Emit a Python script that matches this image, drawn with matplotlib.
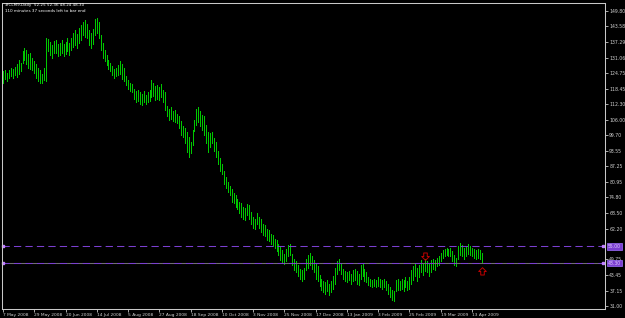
import matplotlib
matplotlib.use("Agg")
import matplotlib.pyplot as plt
from matplotlib.path import Path
import numpy as np

# ---------------- data ----------------
highs = [
    125.5, 126.0, 124.8, 126.2, 127.0, 126.5, 127.3, 128.5, 130.0, 129.0,
    133.5, 135.0, 134.0, 132.5, 133.0, 131.0, 129.5, 128.5, 127.0, 126.0,
    124.5, 127.0, 139.0, 138.5, 137.5, 136.0, 137.8, 138.2, 136.5, 137.0,
    138.0, 136.5, 137.5, 138.8, 137.0, 139.0, 141.0, 142.0, 140.5, 143.0,
    144.0, 145.5, 146.0, 144.5, 142.0, 141.0, 142.5, 146.5, 147.0, 145.5,
    140.0, 137.0, 134.0, 132.0, 130.0, 129.0, 127.5, 126.5, 127.0, 128.0,
    129.5, 128.5, 127.0, 123.5, 122.0, 121.0, 120.5, 118.5, 117.5, 118.0,
    117.0, 116.5, 117.5, 116.0, 117.0, 118.0, 122.0, 121.0, 119.5, 120.0,
    119.0, 120.5, 118.0, 117.0, 111.5, 110.5, 111.0, 109.5, 110.0, 108.5,
    107.5, 105.5, 103.5, 102.5, 101.0, 99.0, 97.0, 102.0, 106.0, 110.5,
    111.0, 109.5, 108.0, 107.5, 104.0, 101.0, 100.5, 101.0, 98.5, 97.0,
    93.5, 90.5, 88.0, 85.5, 83.0, 81.0, 79.5, 78.0, 76.5, 75.5,
    74.0, 73.0, 72.5, 71.0, 70.5, 72.0, 71.5, 69.0, 67.0, 66.0,
    68.5, 67.0, 66.0, 64.0, 63.5, 62.0, 61.5, 60.0, 59.5, 58.0,
    57.5, 56.0, 55.0, 53.5, 52.0, 54.0, 55.5, 56.0, 52.0, 50.0,
    49.0, 47.5, 46.0, 45.5, 46.5, 50.0, 51.5, 52.5, 51.0, 49.5,
    48.5, 47.0, 43.5, 42.0, 41.0, 40.5, 41.5, 40.0, 41.0, 43.0,
    46.5, 49.0, 50.0, 48.5, 46.0, 45.0, 44.5, 45.0, 44.0, 45.5,
    46.0, 45.0, 44.0, 47.5, 48.0, 46.0, 44.5, 42.5, 42.0, 41.5,
    42.0, 41.5, 42.5, 42.0, 41.5, 42.0, 41.0, 40.0, 38.5, 37.5,
    37.0, 41.5, 42.0, 41.0, 42.0, 41.5, 42.5, 41.0, 42.5, 45.5,
    47.0, 48.0, 46.5, 47.5, 49.5, 48.5, 50.0, 49.0, 48.5, 49.5,
    50.0, 49.5, 50.5, 51.0, 52.5, 53.5, 54.0, 54.5, 54.0, 54.5,
    53.0, 51.5, 50.5, 55.0, 56.5, 55.5, 54.5, 55.0, 56.0, 55.0,
    54.5, 54.0, 53.5, 54.0, 53.5, 52.36,
]
lows = [
    121.0, 122.5, 121.8, 122.9, 123.5, 123.0, 124.0, 123.2, 124.5, 125.5,
    129.0, 130.2, 128.5, 127.0, 126.5, 126.0, 125.0, 123.0, 121.5, 121.0,
    120.8, 122.0, 121.5, 133.5, 132.0, 131.0, 132.8, 133.0, 131.5, 132.0,
    133.0, 131.8, 132.5, 133.5, 132.0, 134.0, 135.5, 136.0, 135.0, 137.0,
    138.0, 140.0, 139.5, 139.0, 136.0, 135.0, 136.5, 140.0, 141.0, 139.0,
    134.0, 131.0, 129.5, 128.0, 126.5, 125.5, 124.0, 123.0, 123.5, 124.0,
    124.5, 122.5, 121.5, 120.0, 118.5, 117.5, 117.0, 114.5, 113.0, 113.5,
    112.5, 112.0, 113.0, 112.2, 113.0, 113.5, 115.0, 115.5, 114.0, 114.5,
    114.0, 115.0, 113.0, 110.0, 107.5, 106.0, 106.5, 105.5, 105.0, 104.5,
    102.5, 100.0, 99.0, 96.5, 93.0, 91.0, 92.5, 96.0, 101.5, 104.0,
    105.0, 103.5, 102.0, 100.0, 96.5, 93.0, 95.0, 96.5, 93.5, 91.0,
    88.0, 85.5, 84.0, 80.0, 78.5, 77.0, 75.5, 73.0, 72.5, 71.0,
    70.0, 68.5, 67.0, 66.0, 65.5, 67.5, 66.0, 64.0, 62.5, 62.0,
    64.0, 62.5, 61.0, 59.5, 59.0, 57.5, 57.0, 56.0, 55.0, 54.5,
    53.0, 51.5, 49.5, 48.5, 48.0, 49.0, 51.0, 51.5, 47.5, 45.5,
    44.5, 43.0, 42.0, 41.0, 42.0, 45.5, 46.5, 47.5, 46.0, 44.5,
    42.0, 41.0, 39.0, 37.5, 36.5, 36.0, 37.0, 35.5, 36.5, 38.0,
    40.0, 44.0, 45.5, 44.0, 42.0, 41.0, 40.5, 41.5, 40.0, 41.0,
    41.5, 40.0, 39.5, 42.0, 43.0, 41.0, 40.5, 39.5, 39.0, 38.5,
    39.0, 38.5, 39.0, 38.5, 38.0, 38.5, 37.5, 36.0, 34.5, 33.5,
    33.0, 37.0, 37.5, 37.5, 38.0, 37.0, 38.5, 37.5, 38.0, 40.0,
    41.5, 43.0, 41.0, 42.5, 44.5, 43.5, 45.0, 44.5, 43.0, 44.5,
    46.0, 45.5, 47.0, 47.5, 49.0, 50.5, 51.0, 51.5, 51.0, 51.0,
    49.0, 47.5, 47.0, 50.0, 51.5, 51.0, 50.0, 51.0, 52.0, 51.5,
    51.0, 50.5, 50.0, 50.5, 50.0, 48.24,
]
date_labels = ["7 May 2008", "29 May 2008", "20 Jun 2008", "14 Jul 2008",
               "5 Aug 2008", "27 Aug 2008", "18 Sep 2008", "10 Oct 2008",
               "3 Nov 2008", "25 Nov 2008", "17 Dec 2008", "13 Jan 2009",
               "3 Feb 2009", "25 Feb 2009", "19 Mar 2009", "13 Apr 2009"]
date_label_bars = list(range(0, 241, 16))
price_ticks = [149.80, 143.58, 137.29, 131.06, 124.75, 118.45, 112.30, 106.00,
               99.70, 93.55, 87.25, 80.95, 74.80, 68.50, 62.20, 49.75,
               43.45, 37.15, 31.00]
level_line = 55.00
bid_price = 48.30
last_bar = {"open": 52.25, "high": 52.36, "low": 48.24, "close": 48.30}
signal_down = (216, 51.0)
signal_up = (245, 45.0)

# ---------------- figure ----------------
W, H = 625, 318
fig = plt.figure(figsize=(W / 100, H / 100), dpi=100, facecolor="black")
ax = fig.add_axes([2 / W, (H - 309) / H, 603 / W, 306 / H])
ax.set_facecolor("black")

n = len(highs)
idx = np.arange(n)
ax.vlines(idx, lows, highs, color="#00c800", lw=0.5, antialiased=False)

ax.set_xlim(-0.5, 308.1)
ax.set_ylim(29.79, 153.02)

# horizontal lines
purple = "#7b3fd0"
ax.axhline(level_line, color=purple, lw=0.75, ls=(0, (7, 4)))
ax.axhline(bid_price, color="#707070", lw=0.75)
ax.axhline(bid_price, color=purple, lw=0.75, ls=(0, (7, 4)))
for yv in (level_line, bid_price):
    ax.plot([0.0, 307.0], [yv, yv], ls="none", marker="s", ms=2.0,
            color="#c080ff", clip_on=False)

# signal arrows (hollow block arrows)
down_arrow = Path([(-0.3, 0.6), (0.3, 0.6), (0.3, 0.0), (0.65, 0.0),
                   (0.0, -0.65), (-0.65, 0.0), (-0.3, 0.0), (-0.3, 0.6)],
                  [Path.MOVETO] + [Path.LINETO] * 6 + [Path.CLOSEPOLY])
up_arrow = Path([(x, -y) for x, y in down_arrow.vertices], down_arrow.codes)
ax.plot([signal_down[0]], [signal_down[1]], marker=down_arrow, ms=5.5,
        mfc="none", mec="#c00000", mew=0.7, ls="none")
ax.plot([signal_up[0]], [signal_up[1]], marker=up_arrow, ms=5.5,
        mfc="none", mec="#c00000", mew=0.7, ls="none")

# spines
for s in ax.spines.values():
    s.set_color("#c8c8c8")
    s.set_linewidth(0.75)

# y axis on right
ax.yaxis.tick_right()
ax.set_yticks(price_ticks)
ax.set_yticklabels([f"{v:.2f}" for v in price_ticks])
ax.tick_params(axis="y", colors="#c8c8c8", labelsize=3.3, length=2,
               width=0.6, pad=1.0, labelcolor="#d0d0d0")

# x axis
ax.set_xticks(date_label_bars)
ax.set_xticklabels(date_labels, ha="left")
ax.tick_params(axis="x", colors="#c8c8c8", labelsize=3.2, length=2,
               width=0.6, pad=1.0, labelcolor="#d0d0d0")

# price boxes on right axis
for yv in (level_line, bid_price):
    ax.annotate(f"{yv:.2f}", xy=(1.0, yv), xycoords=("axes fraction", "data"),
                xytext=(2.2, 0), textcoords="offset points", fontsize=3.3,
                color="#e0c8ff", va="center", ha="left", zorder=5,
                bbox=dict(boxstyle="square,pad=0.2", fc=purple,
                          ec="#a070ff", lw=0.5))

# header text
fig.text(5 / W, 1 - 5 / H, "#CLM9,Daily  %.2f %.2f %.2f %.2f" % (
    last_bar["open"], last_bar["high"], last_bar["low"], last_bar["close"]),
    color="white", fontsize=3.0, va="center", ha="left")
fig.text(5 / W, 1 - 11 / H, "110 minutes 37 seconds left to bar end",
         color="white", fontsize=3.0, va="center", ha="left")

fig.savefig("out.png", dpi=100, facecolor="black")
